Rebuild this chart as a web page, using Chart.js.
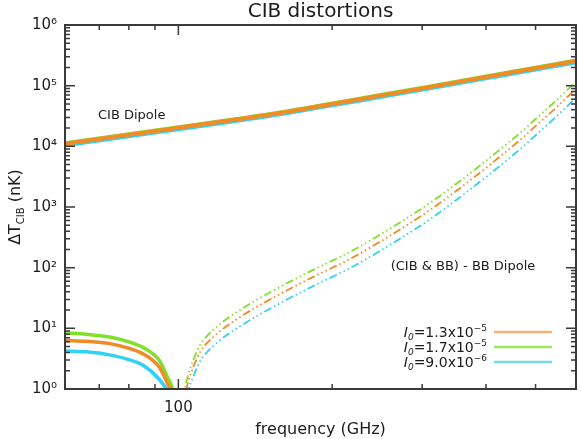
<!DOCTYPE html>
<html>
<head>
<meta charset="utf-8">
<script src="https://cdn.jsdelivr.net/npm/chart.js@4.4.1/dist/chart.umd.min.js"></script>
<style>
  html, body { margin: 0; padding: 0; background: #fff; }
  #wrap { width: 581px; height: 439px; }
</style>
</head>
<body>
<div id="wrap"><canvas id="c"></canvas></div>
<script>
// ── data ──────────────────────────────────────────────────────────────
const freqDipole   = [60, 80, 100, 120, 158, 200, 250, 311, 400, 500, 600];
const dipoleOrange = [1.10e4, 1.55e4, 2.02e4, 2.51e4, 3.55e4, 5.00e4, 6.92e4, 9.50e4, 1.39e5, 1.94e5, 2.55e5];
const dipoleGreen  = [1.12e4, 1.58e4, 2.06e4, 2.56e4, 3.62e4, 5.10e4, 7.06e4, 9.69e4, 1.42e5, 1.98e5, 2.60e5];
const dipoleCyan   = [1.045e4, 1.47e4, 1.92e4, 2.38e4, 3.37e4, 4.75e4, 6.57e4, 9.03e4, 1.32e5, 1.84e5, 2.42e5];

const freqLow   = [60, 66, 73.4, 80, 85, 91.7, 95.1, 97.3, 98.6, 99.6];
const lowOrange = [6.3, 6.1, 5.6, 4.7, 3.85, 2.3, 1.27, 0.8, 0.45, 0.12];
const lowGreen  = [8.4, 8.0, 7.2, 6.0, 4.9, 3.0, 1.6, 1.04, 0.6, 0.15];
const lowCyan   = [4.25, 4.1, 3.65, 3.05, 2.5, 1.45, 0.95, 0.6, 0.35, 0.1];

const freqExcess   = [101.5, 103, 104.5, 107, 110.3, 117, 132, 158, 185, 217, 271, 311, 377, 426, 473, 500, 550, 600];
const excessOrange = [0.38, 0.77, 1.3, 2.3, 4.05, 7.2, 15.3, 36.6, 72.7, 140, 422, 895, 2980, 6780, 14100, 21600, 44400, 89500];
const excessGreen  = [0.5, 1.0, 1.7, 3.0, 5.3, 9.4, 20, 47.9, 95, 183, 551, 1170, 3900, 8860, 18400, 28200, 58100, 117000];
const excessCyan   = [0.27, 0.54, 0.92, 1.62, 2.86, 5.1, 10.8, 25.9, 51.3, 99, 298, 632, 2110, 4780, 9940, 15200, 31400, 63200];

const xMajorTicks = [100];
const xMinorTicks = [70, 80, 90, 200, 300, 400, 500];
const yDecades    = [1, 10, 100, 1000, 10000, 100000, 1000000];

const legendRows = [
  { mant: '1.3', exp: '-5', color: '#F4B274' },
  { mant: '1.7', exp: '-5', color: '#9CE65E' },
  { mant: '9.0', exp: '-6', color: '#74DAF2' }
];

// ── styles ────────────────────────────────────────────────────────────
const ORANGE = '#F28A26';
const GREEN  = '#82E02A';
const CYAN   = '#30D2F2';
const AXIS   = '#3a3a3a';
const TEXT   = '#1c1c1c';
const FONT   = 'DejaVu Sans';
const DASH   = [8, 3, 1.5, 3, 1.5, 3, 1.5, 3];

const SUP = { '0': '⁰', '1': '¹', '2': '²', '3': '³', '4': '⁴', '5': '⁵', '6': '⁶', '-': '⁻' };
const sup = s => String(s).split('').map(c => SUP[c] || c).join('');

function pts(xs, ys) { return xs.map((x, i) => ({ x, y: ys[i] })); }

function line(data, color, width, dash) {
  return {
    data, borderColor: color, borderWidth: width, borderDash: dash || [],
    pointRadius: 0, fill: false, cubicInterpolationMode: 'monotone'
  };
}

// ── frame, inward ticks, titles, labels, legend ─────────────────────────
const decor = {
  id: 'decor',
  afterDraw(chart) {
    const { ctx, chartArea: a, scales: { x, y } } = chart;
    ctx.save();

    ctx.strokeStyle = AXIS;
    ctx.lineWidth = 1.5;
    ctx.beginPath();
    for (let d = 0; d < 6; d++) {
      for (let m = 1; m < 10; m++) {
        const py = y.getPixelForValue(m * Math.pow(10, d));
        const len = m === 1 ? 10 : 5;
        ctx.moveTo(a.left, py);  ctx.lineTo(a.left + len, py);
        ctx.moveTo(a.right, py); ctx.lineTo(a.right - len, py);
      }
    }
    xMajorTicks.concat(xMinorTicks).forEach(v => {
      const px = x.getPixelForValue(v);
      const len = xMajorTicks.includes(v) ? 10 : 5;
      ctx.moveTo(px, a.bottom); ctx.lineTo(px, a.bottom - len);
      ctx.moveTo(px, a.top);    ctx.lineTo(px, a.top + len);
    });
    ctx.stroke();

    ctx.lineWidth = 2;
    ctx.strokeRect(a.left, a.top, a.right - a.left, a.bottom - a.top);

    ctx.fillStyle = TEXT;
    ctx.textBaseline = 'alphabetic';

    // title
    ctx.font = `20px "${FONT}"`;
    ctx.textAlign = 'center';
    ctx.fillText('CIB distortions', (a.left + a.right) / 2, 17);

    // x title
    ctx.font = `16px "${FONT}"`;
    ctx.fillText('frequency (GHz)', (a.left + a.right) / 2, 434);

    // y title, rotated, with subscript
    ctx.save();
    ctx.translate(20, (a.top + a.bottom) / 2);
    ctx.rotate(-Math.PI / 2);
    const big = `16px "${FONT}"`, small = `10px "${FONT}"`;
    ctx.font = big;  const w1 = ctx.measureText('ΔT').width, w3 = ctx.measureText(' (nK)').width;
    ctx.font = small; const w2 = ctx.measureText('CIB').width;
    let cx = -(w1 + w2 + w3) / 2;
    ctx.textAlign = 'left';
    ctx.font = big;   ctx.fillText('ΔT', cx, 0); cx += w1;
    ctx.font = small; ctx.fillText('CIB', cx, 4); cx += w2;
    ctx.font = big;   ctx.fillText(' (nK)', cx, 0);
    ctx.restore();

    // annotations
    ctx.font = `13px "${FONT}"`;
    ctx.textAlign = 'left';
    ctx.fillText('CIB Dipole', 98, 119);
    ctx.textAlign = 'center';
    ctx.fillText('(CIB & BB) - BB Dipole', 463, 270);

    // legend
    legendRows.forEach((r, i) => {
      const ly = 332 + i * 15;
      ctx.strokeStyle = r.color;
      ctx.lineWidth = 2.5;
      ctx.beginPath(); ctx.moveTo(494, ly); ctx.lineTo(552, ly); ctx.stroke();

      const parts = [
        { t: 'I', f: `italic 14px "${FONT}"`, dy: 0 },
        { t: '0', f: `italic 9px "${FONT}"`, dy: 3 },
        { t: '=' + r.mant + 'x10', f: `14px "${FONT}"`, dy: 0 },
        { t: r.exp.replace('-', '−'), f: `9px "${FONT}"`, dy: -6 }
      ];
      let total = 0;
      parts.forEach(p => { ctx.font = p.f; p.w = ctx.measureText(p.t).width; total += p.w; });
      let px = 487 - total;
      ctx.textAlign = 'left';
      ctx.fillStyle = TEXT;
      parts.forEach(p => { ctx.font = p.f; ctx.fillText(p.t, px, ly + 5 + p.dy); px += p.w; });
    });

    ctx.restore();
  }
};

Chart.defaults.font.family = FONT;
Chart.defaults.color = TEXT;

new Chart(document.getElementById('c'), {
  type: 'line',
  data: {
    datasets: [
      line(pts(freqDipole, dipoleOrange), ORANGE, 4),
      line(pts(freqDipole, dipoleGreen), GREEN, 4),
      line(pts(freqDipole, dipoleCyan), CYAN, 4),
      line(pts(freqLow, lowOrange), ORANGE, 3.5),
      line(pts(freqLow, lowGreen), GREEN, 3.5),
      line(pts(freqLow, lowCyan), CYAN, 3.5),
      line(pts(freqExcess, excessOrange), ORANGE, 1.8, DASH),
      line(pts(freqExcess, excessGreen), GREEN, 1.8, DASH),
      line(pts(freqExcess, excessCyan), CYAN, 1.8, DASH)
    ]
  },
  options: {
    responsive: true,
    maintainAspectRatio: false,
    animation: false,
    layout: { padding: { top: 25, right: 5, left: 0, bottom: 0 } },
    plugins: { legend: { display: false }, tooltip: { enabled: false } },
    scales: {
      x: {
        type: 'logarithmic', min: 60, max: 600,
        border: { display: false },
        grid: { display: false, drawTicks: false },
        afterBuildTicks: s => { s.ticks = xMinorTicks.concat(xMajorTicks).sort((p, q) => p - q).map(v => ({ value: v })); },
        afterFit: s => { s.height = 50; },
        ticks: {
          autoSkip: false, maxRotation: 0, padding: 10,
          font: { size: 15 }, color: TEXT,
          callback: v => (xMajorTicks.includes(v) ? String(v) : '')
        }
      },
      y: {
        type: 'logarithmic', min: 1, max: 1e6,
        border: { display: false },
        grid: { display: false, drawTicks: false },
        afterBuildTicks: s => { s.ticks = yDecades.map(v => ({ value: v })); },
        afterFit: s => { s.width = 65; },
        ticks: {
          autoSkip: false, padding: 8,
          font: { size: 15 }, color: TEXT,
          callback: v => '10' + sup(Math.round(Math.log10(v)))
        }
      }
    }
  },
  plugins: [decor]
});
</script>
</body>
</html>
